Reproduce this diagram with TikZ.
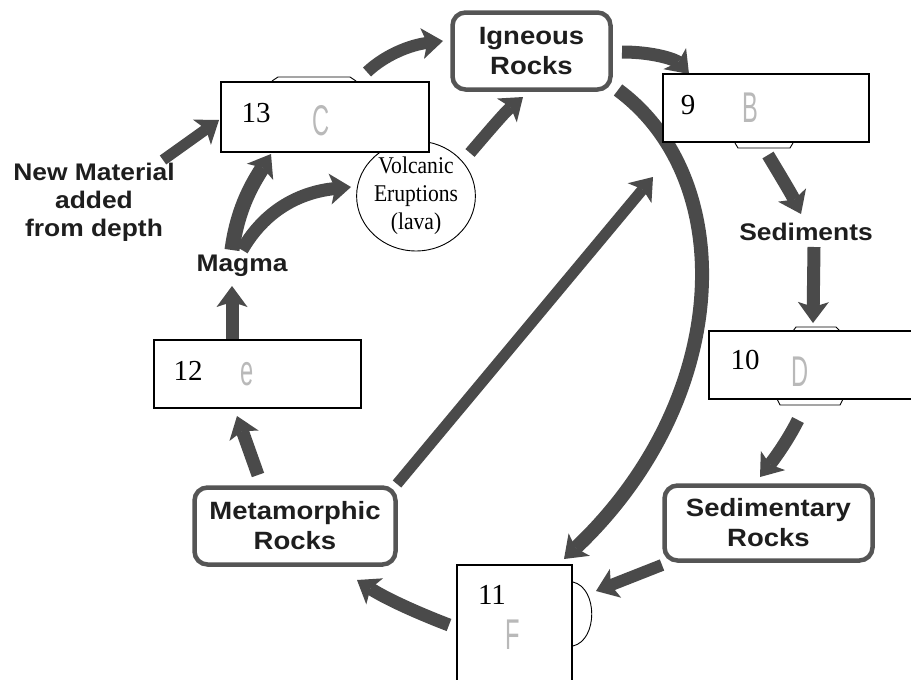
\documentclass[tikz,border=0pt]{standalone}
\usepackage{fontspec}
\setmainfont{Liberation Serif}
\newfontfamily\labfont[FakeStretch=1.1]{Liberation Sans}
\newfontfamily\volcfont[FakeStretch=0.9]{Liberation Serif}
\newfontfamily\handfont[FakeStretch=0.55]{Liberation Sans}
\usetikzlibrary{arrows.meta,shapes.geometric,calc}
\definecolor{arr}{HTML}{4A4A4A}
\definecolor{rockb}{HTML}{555555}
\definecolor{labc}{HTML}{1E1E1E}
\begin{document}
\begin{tikzpicture}[x=1pt,y=-1pt,
  rockbox/.style={draw=rockb,line width=4.5pt,rounded corners=13pt,fill=white,
    font=\labfont\bfseries\fontsize{25}{30}\selectfont,text=labc,align=center,inner sep=0pt},
  numbox/.style={draw=black,line width=1.8pt,fill=white,inner sep=0pt},
  lab/.style={font=\labfont\bfseries\fontsize{24}{28}\selectfont,text=labc,align=center,inner sep=0pt},
  num/.style={font=\fontsize{29}{29}\selectfont,inner sep=0pt},
  hand/.style={font=\handfont\fontsize{43}{43}\selectfont,text=gray!55,inner sep=0pt},
  blockarrow/.style={draw=arr,line width=12pt,
    -{Stealth[length=21pt,width=31pt,inset=5pt,line width=0pt]}},
  thinline/.style={draw=black,line width=0.9pt}
]
\useasboundingbox (0,0) rectangle (911,680);

% ---------- coordinates for arrow ends ----------
\coordinate (nmS) at (163,160);  \coordinate (nmE) at (219,120);
\coordinate (cS) at (367,72);    \coordinate (cE) at (443,41);
\coordinate (vS) at (470,153);   \coordinate (vE) at (523,97);
\coordinate (iS) at (622,52);    \coordinate (iE) at (689,74);
\coordinate (arcS) at (618,90);  \coordinate (arcE) at (564,559);
\coordinate (bS) at (768,155);   \coordinate (bE) at (801,214);
\coordinate (sdS) at (814,247);  \coordinate (sdE) at (813,323);
\coordinate (dS) at (798,420);   \coordinate (dE) at (760,477);
\coordinate (srS) at (662,565);  \coordinate (srE) at (596,591);
\coordinate (fS) at (449,625);   \coordinate (fE) at (357,580);
\coordinate (mS) at (397,484);   \coordinate (mE) at (653,177);
\coordinate (meS) at (258,475);  \coordinate (meE) at (237,416);
\coordinate (eS) at (232,339);   \coordinate (eE) at (232,286);
\coordinate (mgS1) at (232,250); \coordinate (mgE1) at (271,154);
\coordinate (mgS2) at (242,250); \coordinate (mgE2) at (351,187);

% ---------- arrows ----------
\draw[blockarrow,line width=11pt] (nmS) -- (nmE);
\draw[blockarrow,line width=12pt] (cS) .. controls (385,55) and (410,45) .. (cE);
\draw[blockarrow,line width=12pt] (vS) .. controls (488,132) and (505,112) .. (vE);
\draw[blockarrow,line width=13pt] (iS) .. controls (655,52) and (676,60) .. (iE);
\draw[blockarrow,line width=14pt] (arcS) .. controls (740,180) and (732,400) .. (arcE);
\draw[blockarrow,line width=13pt] (bS) .. controls (780,175) and (792,195) .. (bE);
\draw[blockarrow,line width=13pt] (sdS) -- (sdE);
\draw[blockarrow,line width=13pt] (dS) .. controls (788,440) and (775,458) .. (dE);
\draw[blockarrow,line width=12pt] (srS) -- (srE);
\draw[blockarrow,line width=13pt] (fS) .. controls (415,612) and (385,598) .. (fE);
\draw[blockarrow,line width=11pt] (mS) -- (mE);
\draw[blockarrow,line width=13pt] (meS) -- (meE);
\draw[blockarrow,line width=13pt] (eS) -- (eE);
\draw[blockarrow,line width=15pt] (mgS1) .. controls (238,205) and (255,180) .. (mgE1);
\draw[blockarrow,line width=13pt] (mgS2) .. controls (265,210) and (300,192) .. (mgE2);

% ---------- volcanic eruptions ----------
\node[ellipse,draw,line width=0.9pt,minimum width=113pt,minimum height=92pt,inner sep=0pt,
  font=\volcfont\fontsize{24}{28}\selectfont,align=center] (volc) at (416,196)
  {Volcanic\\Eruptions\\(lava)};

% ---------- rock boxes ----------
\node[rockbox,minimum width=158pt,minimum height=77pt] (ign) at (531.5,51) {Igneous\\Rocks};
\node[rockbox,minimum width=201pt,minimum height=77pt] (met) at (295,526) {Metamorphic\\Rocks};
\node[rockbox,minimum width=208pt,minimum height=75pt] (sed) at (768.5,523) {Sedimentary\\Rocks};

% ---------- numbered boxes ----------
\node[numbox,minimum width=208pt,minimum height=70pt] (b13) at (325,117) {};
\node[numbox,minimum width=206pt,minimum height=68pt] (b9) at (766,108) {};
\node[numbox,minimum width=212pt,minimum height=68pt] (b10) at (815,365) {};
\node[numbox,minimum width=115pt,minimum height=130pt] (b11) at (514.5,630) {};
\node[numbox,minimum width=207pt,minimum height=68pt] (b12) at (257.5,374) {};

\node[num] (n13) at (256,113) {13};
\node[hand] (h13) at (321,121) {C};
\node[num] (n9) at (688,105) {9};
\node[hand] (h9) at (750,108) {B};
\node[num] (n10) at (745,360) {10};
\node[hand] (h10) at (800,372) {D};
\node[num] (n12) at (188,371) {12};
\node[hand] (h12) at (247,374) {e};
\node[num] (n11) at (492,595) {11};
\node[hand] (h11) at (513,635) {F};

% small tabs on the boxes
\draw[thinline] (272,81) -- (278,77) -- (350,77) -- (356,81);
\draw[thinline] (735,143) -- (738,148) -- (790,148) -- (793,143);
\draw[thinline] (793,331) -- (796,327) -- (836,327) -- (840,331);
\draw[thinline] (777,399) -- (780,405) -- (840,405) -- (843,399);
% half circle on box 11
\coordinate (hcS) at (573,582); \coordinate (hcE) at (573,646);
\draw[thinline] (hcS) .. controls (598,588) and (598,640) .. (hcE);

% ---------- free labels ----------
\node[lab] (newmat) at (94,202) {New Material\\added\\from depth};
\node[lab] (magma) at (242,266) {Magma};
\node[lab] (sedim) at (806,232) {Sediments};
\end{tikzpicture}
\end{document}
